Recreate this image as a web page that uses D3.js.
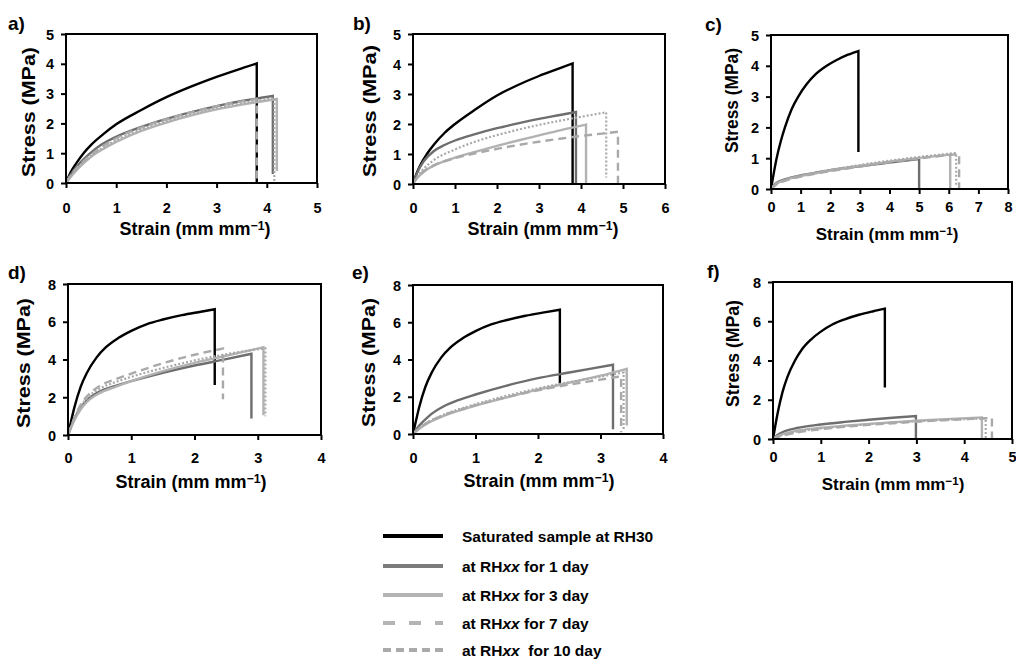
<!DOCTYPE html>
<html><head><meta charset="utf-8">
<script src="https://cdn.jsdelivr.net/npm/d3@7"></script>
<style>
body{margin:0;background:#fff}
svg{display:block}
text{font-family:"Liberation Sans",Arial,sans-serif;font-weight:bold;fill:#000}
</style>
</head><body>
<svg id="chart" width="1016" height="659"></svg>
<script>
// ---------------- DATA ----------------
const panelLabels = ["a)", "b)", "c)", "d)", "e)", "f)"];
const xTickValues = [[0,1,2,3,4,5],[0,1,2,3,4,5,6],[0,1,2,3,4,5,6,7,8],[0,1,2,3,4],[0,1,2,3,4],[0,1,2,3,4,5]];
const yTickValues = [[0,1,2,3,4,5],[0,1,2,3,4,5],[0,1,2,3,4,5],[0,2,4,6,8],[0,2,4,6,8],[0,2,4,6,8]];
const xTitle = "Strain (mm mm";
const xTitleSup = "\u22121";
const yTitle = "Stress (MPa)";
const legendLabels = [
  ["Saturated sample at RH30"],
  ["at RH", "xx", " for 1 day"],
  ["at RH", "xx", " for 3 day"],
  ["at RH", "xx", " for 7 day"],
  ["at RH", "xx", "  for 10 day"]
];

// each series: [strain, stress] points; last point = failure drop
const satA  = [[0,0],[0.1,0.38],[0.2,0.65],[0.35,1.0],[0.5,1.28],[0.75,1.65],[1,1.97],[1.5,2.45],[2,2.88],[2.5,3.24],[3,3.56],[3.5,3.85],[3.8,4.01],[3.8,0]];
const d1A   = [[0,0],[0.1,0.3],[0.25,0.62],[0.45,0.95],[0.7,1.28],[1,1.55],[1.5,1.88],[2,2.15],[2.5,2.38],[3,2.58],[3.5,2.75],[4.12,2.92],[4.12,0.3]];
const d3A   = [[0,0],[0.1,0.22],[0.25,0.5],[0.5,0.88],[0.75,1.15],[1,1.38],[1.5,1.75],[2,2.03],[2.5,2.27],[3,2.47],[3.5,2.63],[4.2,2.82],[4.2,0.4]];
const d7A   = [[0,0],[0.1,0.27],[0.25,0.56],[0.5,0.95],[0.75,1.25],[1,1.5],[1.5,1.86],[2,2.14],[2.5,2.38],[3,2.58],[3.5,2.74],[3.8,2.82],[3.8,0]];
const d10A  = [[0,0],[0.1,0.25],[0.25,0.53],[0.5,0.92],[0.75,1.2],[1,1.44],[1.5,1.8],[2,2.08],[2.5,2.32],[3,2.52],[3.5,2.68],[4.15,2.85],[4.15,0.05]];

const satB  = [[0,0],[0.1,0.4],[0.2,0.7],[0.33,1.0],[0.5,1.32],[0.75,1.7],[1,2.0],[1.5,2.5],[2,2.95],[2.5,3.3],[3,3.6],[3.5,3.86],[3.8,4.02],[3.8,0]];
const d1B   = [[0,0],[0.1,0.38],[0.25,0.75],[0.5,1.1],[0.75,1.3],[1,1.45],[1.5,1.67],[2,1.86],[2.5,2.02],[3,2.17],[3.5,2.3],[3.88,2.4],[3.88,0]];
const d3B   = [[0,0],[0.1,0.2],[0.25,0.4],[0.5,0.62],[0.75,0.76],[1,0.88],[1.5,1.08],[2,1.27],[2.5,1.45],[3,1.62],[3.5,1.79],[4.12,1.98],[4.12,0]];
const d7B   = [[0,0],[0.1,0.22],[0.25,0.42],[0.5,0.62],[1,0.86],[1.5,1.03],[2,1.17],[2.5,1.3],[3,1.41],[3.5,1.51],[4,1.6],[4.5,1.68],[4.88,1.74],[4.88,0]];
const d10B  = [[0,0],[0.1,0.25],[0.25,0.5],[0.5,0.8],[1,1.15],[1.5,1.42],[2,1.63],[2.5,1.81],[3,1.97],[3.5,2.11],[4,2.24],[4.6,2.39],[4.6,0.22]];

const satC  = [[0,0],[0.1,0.55],[0.19,1.0],[0.33,1.55],[0.47,2.0],[0.7,2.6],[0.92,3.0],[1.2,3.4],[1.5,3.72],[1.88,4.0],[2.2,4.18],[2.6,4.36],[2.95,4.48],[2.95,1.2]];
const d1C   = [[0,0],[0.15,0.17],[0.5,0.32],[1,0.44],[1.5,0.53],[2,0.61],[3,0.74],[4,0.86],[5,0.97],[5,0]];
const d3C   = [[0,0],[0.15,0.15],[0.5,0.3],[1,0.42],[2,0.6],[3,0.75],[4,0.89],[5,1.01],[6.05,1.12],[6.05,0]];
const d7C   = [[0,0],[0.15,0.12],[0.5,0.27],[1,0.4],[2,0.58],[3,0.73],[4,0.87],[5,0.99],[6.35,1.14],[6.35,0]];
const d10C  = [[0,0],[0.15,0.14],[0.5,0.3],[1,0.43],[2,0.62],[3,0.78],[4,0.92],[5,1.04],[6.25,1.17],[6.25,0.1]];

const satD  = [[0,0],[0.05,0.75],[0.1,1.45],[0.2,2.55],[0.3,3.3],[0.45,4.1],[0.6,4.65],[0.8,5.15],[1.0,5.52],[1.25,5.88],[1.5,6.12],[1.8,6.35],[2.1,6.53],[2.32,6.66],[2.32,2.65]];
const d1D   = [[0,0],[0.05,0.45],[0.1,0.85],[0.2,1.45],[0.3,1.85],[0.5,2.3],[0.75,2.6],[1,2.85],[1.5,3.3],[2,3.68],[2.5,4.02],[2.9,4.3],[2.9,0.88]];
const d3D   = [[0,0],[0.05,0.4],[0.1,0.78],[0.2,1.35],[0.3,1.75],[0.5,2.22],[0.75,2.55],[1,2.85],[1.5,3.38],[2,3.82],[2.5,4.2],[3.09,4.65],[3.09,1.05]];
const d7D   = [[0,0],[0.05,0.45],[0.1,0.9],[0.2,1.6],[0.3,2.05],[0.5,2.6],[0.75,2.95],[1,3.25],[1.5,3.8],[2,4.25],[2.45,4.58],[2.45,1.9]];
const d10D  = [[0,0],[0.05,0.45],[0.1,0.88],[0.2,1.52],[0.3,1.95],[0.5,2.45],[0.75,2.8],[1,3.08],[1.5,3.55],[2,3.95],[2.5,4.28],[3.12,4.6],[3.12,1.0]];

const satE  = [[0,0],[0.05,0.75],[0.1,1.45],[0.2,2.55],[0.3,3.3],[0.45,4.1],[0.6,4.65],[0.8,5.15],[1.0,5.52],[1.25,5.88],[1.5,6.12],[1.8,6.35],[2.1,6.53],[2.35,6.67],[2.35,2.6]];
const d1E   = [[0,0],[0.1,0.45],[0.25,0.95],[0.5,1.5],[0.75,1.85],[1,2.12],[1.5,2.6],[2,3.0],[2.5,3.3],[3.2,3.72],[3.2,0.25]];
const d3E   = [[0,0],[0.1,0.28],[0.25,0.6],[0.5,0.98],[0.75,1.27],[1,1.52],[1.5,1.97],[2,2.38],[2.5,2.75],[3,3.13],[3.42,3.5],[3.42,0.45]];
const d7E   = [[0,0],[0.1,0.3],[0.25,0.65],[0.5,1.02],[0.75,1.3],[1,1.55],[1.5,1.98],[2,2.35],[2.5,2.65],[3,2.92],[3.33,3.1],[3.33,0.1]];
const d10E  = [[0,0],[0.1,0.32],[0.25,0.66],[0.5,1.05],[0.75,1.35],[1,1.6],[1.5,2.05],[2,2.45],[2.5,2.78],[3,3.08],[3.37,3.3],[3.37,0.25]];

const satF  = [[0,0],[0.05,0.7],[0.1,1.35],[0.2,2.4],[0.3,3.15],[0.46,4.0],[0.6,4.55],[0.8,5.08],[1.0,5.47],[1.26,5.86],[1.5,6.1],[1.8,6.33],[2.1,6.51],[2.34,6.64],[2.34,2.62]];
const d1F   = [[0,0],[0.1,0.22],[0.25,0.4],[0.5,0.56],[1,0.74],[1.5,0.87],[2,0.98],[2.5,1.08],[2.99,1.17],[2.99,0]];
const d3F   = [[0,0],[0.1,0.15],[0.25,0.28],[0.5,0.42],[1,0.57],[1.5,0.68],[2,0.77],[2.5,0.85],[3,0.93],[3.5,1.0],[4.37,1.1],[4.37,0]];
const d7F   = [[0,0],[0.1,0.1],[0.25,0.2],[0.5,0.33],[1,0.5],[1.5,0.62],[2,0.72],[2.5,0.8],[3,0.88],[3.5,0.95],[4.58,1.07],[4.58,0]];
const d10F  = [[0,0],[0.1,0.12],[0.25,0.24],[0.5,0.37],[1,0.53],[2,0.75],[3,0.9],[4.45,1.05],[4.45,0.05]];

const panelSeries = [
  [satA, d1A, d3A, d7A, d10A],
  [satB, d1B, d3B, d7B, d10B],
  [satC, d1C, d3C, d7C, d10C],
  [satD, d1D, d3D, d7D, d10D],
  [satE, d1E, d3E, d7E, d10E],
  [satF, d1F, d3F, d7F, d10F]
];

// ---------------- LAYOUT & STYLE ----------------
const layout = [
  {l:66,  r:317,  t:34,  b:183, tickBase:213, titleBase:235, xtSize:18, ytX:29,  ytY:112,   ytLen:130, xtX:195, lx:8,   ly:30},
  {l:413, r:665,  t:34,  b:184, tickBase:213, titleBase:235, xtSize:18, ytX:370, ytY:111,   ytLen:132, xtX:543, lx:353, ly:30},
  {l:771, r:1008, t:35,  b:189, tickBase:212, titleBase:240, xtSize:17, ytX:732, ytY:100.5, ytLen:105, xtX:887, lx:705, ly:31},
  {l:68,  r:321,  t:284, b:435, tickBase:463, titleBase:488, xtSize:18, ytX:24,  ytY:363,   ytLen:130, xtX:191, lx:8,   ly:279},
  {l:413, r:663,  t:285, b:434, tickBase:463, titleBase:487, xtSize:18, ytX:369, ytY:362.5, ytLen:129, xtX:539, lx:352, ly:279},
  {l:773, r:1012, t:282, b:439, tickBase:462, titleBase:490, xtSize:17, ytX:733, ytY:353.5, ytLen:107, xtX:893, lx:707, ly:278}
];
const seriesStyle = [
  {color:"#000000", width:2.4, dash:null},
  {color:"#6e6e6e", width:2.4, dash:null},
  {color:"#b2b2b2", width:2.4, dash:null},
  {color:"#a9a9a9", width:2.4, dash:"8,5"},
  {color:"#a9a9a9", width:2.2, dash:"2,2"}
];
const legendStyle = [
  {color:"#000000", dash:null},
  {color:"#7c7c7c", dash:null},
  {color:"#b4b4b4", dash:null},
  {color:"#b4b4b4", dash:"12,14"},
  {color:"#aaaaaa", dash:"8,5"}
];

// ---------------- DRAW ----------------
const svg = d3.select("#chart");
const drawOrder = [0,1,2,3,4];

layout.forEach((L, i) => {
  const xt = xTickValues[i], yt = yTickValues[i];
  const x = d3.scaleLinear().domain([0, xt[xt.length-1]]).range([L.l, L.r]);
  const y = d3.scaleLinear().domain([0, yt[yt.length-1]]).range([L.b, L.t]);
  const g = svg.append("g");

  const curve = d3.line().x(d => x(d[0])).y(d => y(d[1])).curve(d3.curveMonotoneX);
  const straight = d3.line().x(d => x(d[0])).y(d => y(d[1]));
  drawOrder.forEach(k => {
    const pts = panelSeries[i][k];
    const st = seriesStyle[k];
    const body = pts.slice(0, -1);
    const drop = pts.slice(-2);
    const p = curve(body) + straight(drop).replace(/^M/, "L");
    g.append("path").attr("d", p)
      .attr("fill", "none").attr("stroke", st.color)
      .attr("stroke-width", st.width)
      .attr("stroke-dasharray", st.dash)
      .attr("stroke-linejoin", "miter");
  });

  // frame
  g.append("rect").attr("x", L.l).attr("y", L.t)
    .attr("width", L.r - L.l).attr("height", L.b - L.t)
    .attr("fill", "none").attr("stroke", "#000").attr("stroke-width", 2);

  // axes
  const ax = g.append("g").attr("transform", `translate(0,${L.b})`)
    .call(d3.axisBottom(x).tickValues(xt).tickFormat(d3.format("d")).tickSize(5).tickSizeOuter(0));
  ax.select(".domain").remove();
  ax.selectAll("line").attr("stroke", "#000").attr("stroke-width", 2);
  ax.selectAll("text").attr("dy", null).attr("y", L.tickBase - L.b)
    .style("font-size", "14.5px").style("font-family", "'Liberation Sans',Arial,sans-serif").style("font-weight", "bold");

  const ay = g.append("g").attr("transform", `translate(${L.l},0)`)
    .call(d3.axisLeft(y).tickValues(yt).tickFormat(d3.format("d")).tickSize(5).tickPadding(7).tickSizeOuter(0));
  ay.select(".domain").remove();
  ay.selectAll("line").attr("stroke", "#000").attr("stroke-width", 2);
  ay.selectAll("text").attr("dy", "0.35em")
    .style("font-size", "14.5px").style("font-family", "'Liberation Sans',Arial,sans-serif").style("font-weight", "bold");

  // x title
  const tx = g.append("text").attr("x", L.xtX).attr("y", L.titleBase)
    .attr("text-anchor", "middle").style("font-size", L.xtSize + "px");
  tx.append("tspan").text(xTitle);
  tx.append("tspan").attr("dy", "-0.4em").style("font-size", "0.68em").text(xTitleSup);
  tx.append("tspan").attr("dy", "0.27em").text(")");

  // y title
  g.append("text").attr("transform", `translate(${L.ytX},${L.ytY}) rotate(-90)`)
    .attr("text-anchor", "middle").attr("dy", "0.36em").style("font-size", "18px")
    .attr("textLength", L.ytLen).attr("lengthAdjust", "spacingAndGlyphs")
    .text(yTitle);

  // panel label
  g.append("text").attr("x", L.lx).attr("y", L.ly).style("font-size", "19px").text(panelLabels[i]);
});

// legend
const leg = svg.append("g");
const legRows = [536, 566, 595, 623, 650];
legendLabels.forEach((parts, k) => {
  const yy = legRows[k];
  leg.append("line").attr("x1", 383).attr("x2", 443).attr("y1", yy).attr("y2", yy)
    .attr("stroke", legendStyle[k].color).attr("stroke-width", 4)
    .attr("stroke-dasharray", legendStyle[k].dash);
  const t = leg.append("text").attr("x", 462).attr("y", yy).attr("dy", "0.36em")
    .style("font-size", "15.5px").style("white-space", "pre");
  parts.forEach((s, j) => {
    t.append("tspan").style("font-style", j === 1 ? "italic" : "normal").text(s);
  });
});
</script>
</body></html>
